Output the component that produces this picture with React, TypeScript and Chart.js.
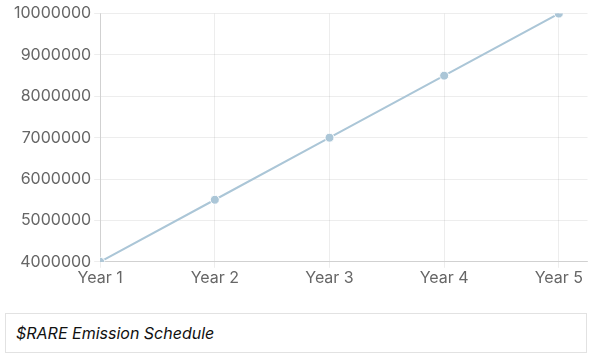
import React, { useEffect, useRef } from "react";
import { Chart, registerables } from "chart.js";

Chart.register(...registerables);

const categories = ["Year 1", "Year 2", "Year 3", "Year 4", "Year 5"];
const emission = [4000000, 5500000, 7000000, 8500000, 10000000];
const yTicks = [4000000, 5000000, 6000000, 7000000, 8000000, 9000000, 10000000];
const title = "$RARE Emission Schedule";

const FONT = "Inter, 'DejaVu Sans', sans-serif";

export default function App() {
  const ref = useRef<HTMLCanvasElement | null>(null);

  useEffect(() => {
    if (!ref.current) return;
    const chart = new Chart(ref.current, {
      type: "line",
      data: {
        datasets: [
          {
            label: title,
            data: emission.map((v, i) => ({ x: i + 1, y: v })),
            borderColor: "#abc6d7",
            backgroundColor: "#abc6d7",
            borderWidth: 2,
            pointRadius: 4.5,
            pointBorderColor: "#ffffff",
            pointBorderWidth: 1,
            pointBackgroundColor: "#abc6d7",
            tension: 0,
          },
        ],
      },
      options: {
        animation: false,
        responsive: true,
        maintainAspectRatio: false,
        layout: { padding: { top: 6, right: 0, left: 0, bottom: 0 } },
        plugins: { legend: { display: false }, tooltip: { enabled: false } },
        scales: {
          x: {
            type: "linear",
            min: 1,
            max: 5.25,
            afterBuildTicks: (scale: any) => {
              scale.ticks = categories.map((_, i) => ({ value: i + 1 }));
            },
            ticks: {
              color: "#666",
              font: { family: FONT, size: 16 },
              maxRotation: 0,
              autoSkip: false,
              padding: 1,
              callback: (v: any) => categories[Math.round(Number(v)) - 1] ?? "",
            },
            grid: { color: "rgba(0,0,0,0.07)", tickLength: 6 },
            border: { color: "rgba(0,0,0,0.12)" },
          },
          y: {
            min: 4000000,
            max: 10000000,
            afterBuildTicks: (scale: any) => {
              scale.ticks = yTicks.map((v) => ({ value: v }));
            },
            ticks: {
              color: "#666",
              font: { family: FONT, size: 16 },
              callback: (v: any) => String(v),
            },
            grid: { color: "rgba(0,0,0,0.07)", tickLength: 6 },
            border: { color: "rgba(0,0,0,0.12)" },
          },
        },
      },
    });
    return () => chart.destroy();
  }, []);

  return (
    <div style={{ position: "fixed", left: 0, top: 0, width: 605, height: 357, background: "#fff" }}>
      <div style={{ position: "absolute", left: 11, top: 1, width: 582, height: 288 }}>
        <canvas ref={ref} />
      </div>
      <div
        style={{
          position: "absolute",
          left: 5,
          top: 313,
          width: 580,
          height: 38,
          border: "1px solid #e2e2e2",
          boxSizing: "content-box",
          display: "flex",
          alignItems: "center",
        }}
      >
        <span
          style={{
            marginLeft: 10,
            fontFamily: FONT,
            fontStyle: "italic",
            fontSize: 16,
            color: "#111",
          }}
        >
          {title}
        </span>
      </div>
    </div>
  );
}
